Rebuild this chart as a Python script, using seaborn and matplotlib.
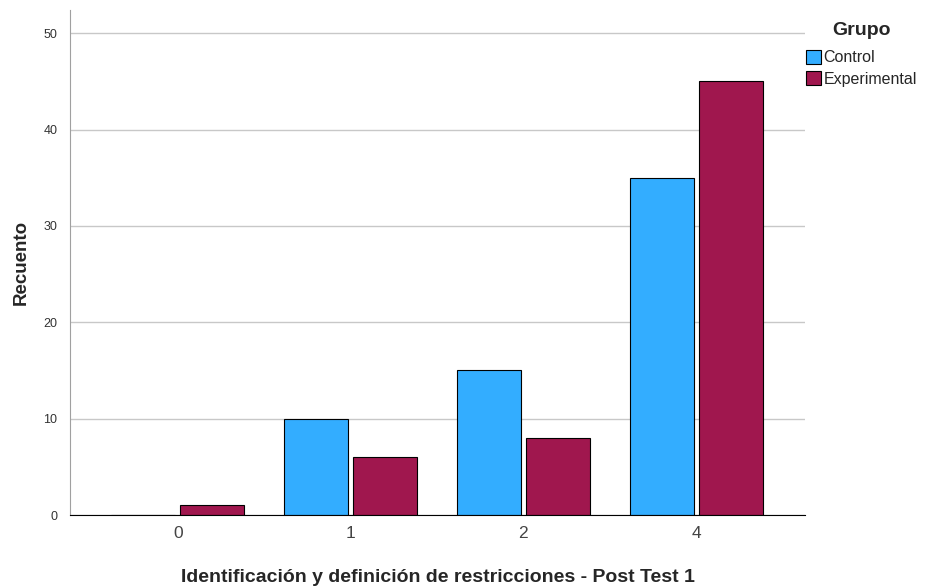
import matplotlib
matplotlib.use("Agg")
import matplotlib.pyplot as plt
import seaborn as sns
import pandas as pd

categories = ["0", "1", "2", "4"]
control = [0, 10, 15, 35]
experimental = [1, 6, 8, 45]
groups = ["Control", "Experimental"]
colors = {"Control": "#33ADFF", "Experimental": "#A0174E"}

df = pd.DataFrame({
    "cat": categories * 2,
    "Recuento": control + experimental,
    "Grupo": [groups[0]] * len(categories) + [groups[1]] * len(categories),
})

sns.set_style("white")
plt.rcParams['font.family'] = ['Liberation Sans', 'DejaVu Sans']

fig = plt.figure(figsize=(9.26, 5.87), dpi=100)
ax = fig.add_axes([70/926, 72/587, 735/926, 505/587])

sns.barplot(data=df, x="cat", y="Recuento", hue="Grupo", order=categories,
            hue_order=groups, palette=colors, width=0.8, gap=0.075,
            saturation=1, edgecolor="black", linewidth=0.8, ax=ax, legend=True)

ax.set_xlim(-0.624, 3.63)
ax.set_ylim(0, 52.4)
ax.set_yticks([0, 10, 20, 30, 40, 50])
ax.yaxis.grid(True, color="#c8c8c8", linewidth=1)
ax.set_axisbelow(True)
for s in ["top", "right"]:
    ax.spines[s].set_visible(False)
ax.spines["left"].set_color("#a0a0a0")
ax.spines["bottom"].set_color("black")
ax.tick_params(axis="both", length=0)
ax.tick_params(axis="y", labelsize=9, colors="#333333", pad=9)
ax.tick_params(axis="x", labelsize=12.5, colors="#444444", pad=8)

ax.set_ylabel("Recuento", fontsize=13.5, fontweight="bold", labelpad=10)
ax.set_xlabel("Identificación y definición de restricciones - Post Test 1",
              fontsize=14, fontweight="bold", labelpad=20)

leg = ax.legend(title="Grupo", loc="upper left", bbox_to_anchor=(0.999, 0.98),
                frameon=False, fontsize=11.5, handlelength=0.95, handleheight=1.0,
                handletextpad=0.15, borderaxespad=0.0, labelspacing=0.35,
                borderpad=0.1)
leg.get_title().set_fontweight("bold")
leg.get_title().set_fontsize(14)
leg._legend_box.sep = 8
for h in leg.legend_handles:
    h.set_edgecolor("black")
    h.set_linewidth(0.8)

fig.savefig("out.png", dpi=100)
